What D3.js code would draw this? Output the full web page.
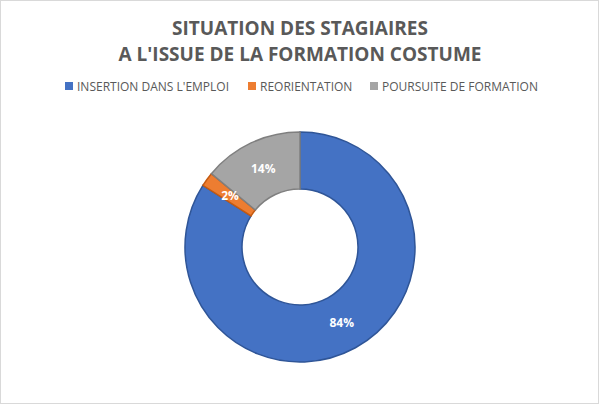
<!DOCTYPE html><html><head><meta charset="utf-8"><script src="https://d3js.org/d3.v7.min.js"></script>
<style>body{margin:0;background:#fff}</style></head><body><svg id="c" width="599" height="404"></svg>
<script>
const categories=["INSERTION DANS L'EMPLOI","REORIENTATION","POURSUITE DE FORMATION"];
const values=[84,2,14];
const colors=["#4472C4","#ED7D31","#A5A5A5"];
const strokes=["#2F5597","#C55A11","#7F7F7F"];
const titleLines=["SITUATION DES STAGIAIRES","A L'ISSUE DE LA FORMATION COSTUME"];
const svg=d3.select("#c");
svg.append("rect").attr("x",0.5).attr("y",0.5).attr("width",598).attr("height",403).attr("fill","#fff").attr("stroke","#D9D9D9");
svg.selectAll("text.t").data(titleLines).join("text").attr("x",300).attr("y",(d,i)=>35+i*26)
 .attr("text-anchor","middle").attr("font-family","Open Sans, Noto Sans, sans-serif").attr("font-weight","bold")
 .attr("font-size",19).attr("fill","#595959").text(d=>d);
const legX=[65,248,370];
const lg=svg.selectAll("g.l").data(categories).join("g").attr("transform",(d,i)=>`translate(${legX[i]},86)`);
lg.append("rect").attr("x",0).attr("y",-4).attr("width",8).attr("height",8).attr("fill",(d,i)=>colors[i]);
lg.append("text").attr("x",12).attr("y",4.5).attr("font-family","Open Sans, Noto Sans, sans-serif").attr("font-size",12).attr("fill","#595959").text(d=>d);
const cx=300,cy=247,R=115,r=58;
const pie=d3.pie().sort(null).value(d=>d)(values);
const arc=d3.arc().innerRadius(r).outerRadius(R);
const g=svg.append("g").attr("transform",`translate(${cx},${cy})`);
g.selectAll("path").data(pie).join("path").attr("d",arc).attr("fill",(d,i)=>colors[i]).attr("stroke",(d,i)=>strokes[i]).attr("stroke-width",1.5);
const la=d3.arc().innerRadius(r).outerRadius(R);
g.selectAll("text").data(pie).join("text").attr("transform",d=>{const c=la.centroid(d);return `translate(${c})`})
 .attr("text-anchor","middle").attr("dy","0.35em").attr("font-family","Open Sans, Noto Sans, sans-serif").attr("font-weight","bold")
 .attr("font-size",12).attr("fill","#fff").text(d=>d.data+"%");
</script></body></html>
